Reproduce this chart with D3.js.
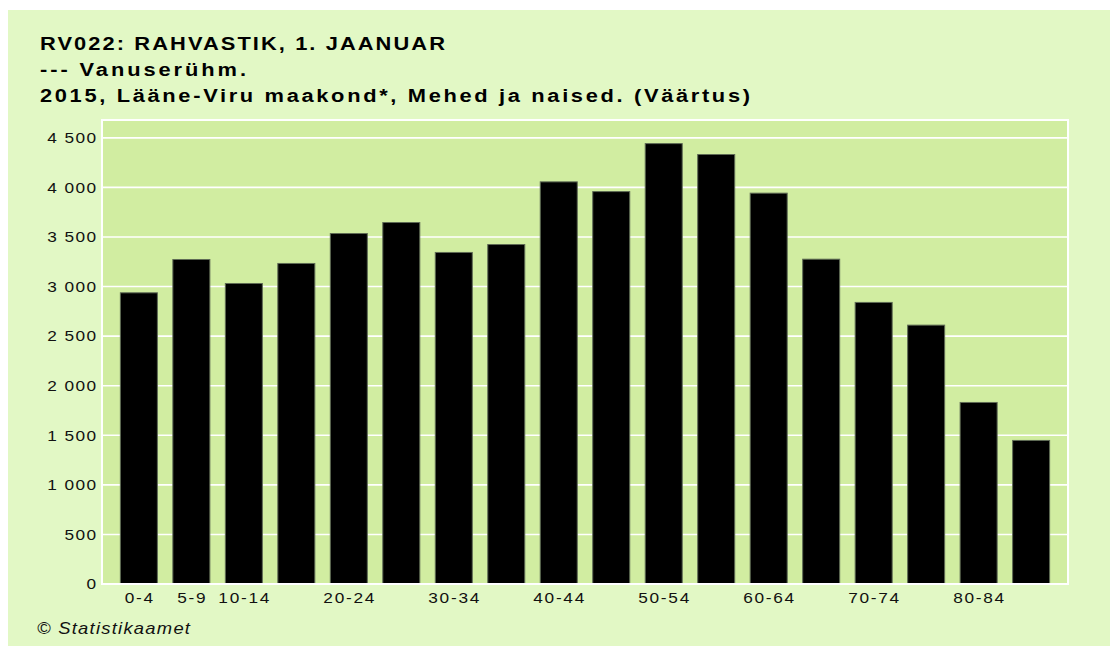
<!DOCTYPE html>
<html>
<head>
<meta charset="utf-8">
<script src="https://cdn.jsdelivr.net/npm/d3@7"></script>
<style>
  body { margin: 0; background: #ffffff; }
  svg { display: block; font-family: "Liberation Sans", Arial, sans-serif; }
</style>
</head>
<body>
<svg id="chart"></svg>
<script>
// Chart data
const ageGroups = ["0-4", "5-9", "10-14", "15-19", "20-24", "25-29", "30-34", "35-39", "40-44",
    "45-49", "50-54", "55-59", "60-64", "65-69", "70-74", "75-79", "80-84", "85+"];
const population = [2937, 3273, 3031, 3233, 3535, 3646, 3344, 3424, 4056,
    3958, 4442, 4332, 3942, 3276, 2840, 2611, 1831, 1448];
// only some of the x labels are shown in the original
const shownLabels = ["0-4", "5-9", "10-14", "20-24", "30-34", "40-44", "50-54", "60-64", "70-74", "80-84"];
const yTicks = [0, 500, 1000, 1500, 2000, 2500, 3000, 3500, 4000, 4500];
const titleLines = ["RV022: RAHVASTIK, 1. JAANUAR", "--- Vanuserühm.",
    "2015, Lääne-Viru maakond*, Mehed ja naised. (Väärtus)"];
const footer = "© Statistikaamet";

const W = 1110, H = 646;
const plot = { left: 102, top: 120, right: 1068, bottom: 584 };
// the original text is rendered wider than Liberation Sans, so stretch it a bit
const stretch = 1.15;
const titleWidths = [405, 206, 710];

const svg = d3.select("#chart")
    .attr("width", W)
    .attr("height", H);

// Panel background
svg.append("rect")
    .attr("x", 8).attr("y", 10)
    .attr("width", W - 8).attr("height", H - 10)
    .attr("fill", "#e2f8c5");

// Plot background
svg.append("rect")
    .attr("x", plot.left).attr("y", plot.top)
    .attr("width", plot.right - plot.left).attr("height", plot.bottom - plot.top)
    .attr("fill", "#d1eda1")
    .attr("stroke", "#ffffff")
    .attr("stroke-width", 2);

// Scales
const x = d3.scaleBand()
    .domain(ageGroups)
    .range([plot.left, plot.right])
    .paddingInner(0.295)
    .paddingOuter(0.35);
const y = d3.scaleLinear()
    .domain([0, 4680])
    .range([plot.bottom, plot.top]);

const fmt = d3.formatLocale({ decimal: ",", thousands: " ", grouping: [3], currency: ["", ""] }).format(",d");

// Gridlines
svg.append("g")
    .selectAll("line")
    .data(yTicks.filter(d => d > 0))
    .enter().append("line")
    .attr("x1", plot.left).attr("x2", plot.right)
    .attr("y1", d => y(d)).attr("y2", d => y(d))
    .attr("stroke", "#ffffff")
    .attr("stroke-width", 1.6);

// Bars
svg.append("g")
    .selectAll("rect")
    .data(population)
    .enter().append("rect")
    .attr("x", (d, i) => x(ageGroups[i]))
    .attr("y", d => y(d))
    .attr("width", x.bandwidth())
    .attr("height", d => y(0) - y(d))
    .attr("fill", "#000000")
    .attr("stroke", "#5f6b55")
    .attr("stroke-width", 1);

// Bottom axis line
svg.append("line")
    .attr("x1", plot.left - 1).attr("x2", plot.right + 1)
    .attr("y1", plot.bottom).attr("y2", plot.bottom)
    .attr("stroke", "#ffffff")
    .attr("stroke-width", 2);

// Y axis
const yAxis = svg.append("g")
    .attr("transform", `translate(${plot.left},0)`)
    .call(d3.axisLeft(y).tickValues(yTicks).tickFormat(fmt).tickSize(0).tickPadding(4));
yAxis.select(".domain").remove();
yAxis.selectAll("text")
    .attr("transform", `scale(${stretch},1)`)
    .attr("font-size", "15px")
    .attr("letter-spacing", "1.2px")
    .attr("font-family", "Liberation Sans, Arial, sans-serif")
    .attr("fill", "#111111");

// X axis
const xAxis = svg.append("g")
    .attr("transform", `translate(0,${plot.bottom})`)
    .call(d3.axisBottom(x).tickFormat(d => shownLabels.includes(d) ? d : "").tickSize(0).tickPadding(8));
xAxis.select(".domain").remove();
xAxis.selectAll("text")
    .attr("transform", `scale(${stretch},1)`)
    .attr("font-size", "15px")
    .attr("letter-spacing", "1.5px")
    .attr("dx", "0.75px")
    .attr("font-family", "Liberation Sans, Arial, sans-serif")
    .attr("fill", "#111111");

// Title
svg.append("g")
    .selectAll("text")
    .data(titleLines)
    .enter().append("text")
    .attr("transform", (d, i) => `translate(40,${50 + i * 26}) scale(${stretch},1)`)
    .attr("font-size", "19px")
    .attr("font-weight", "bold")
    .attr("fill", "#000000")
    .attr("textLength", (d, i) => titleWidths[i] / stretch)
    .attr("lengthAdjust", "spacing")
    .text(d => d);

// Footer
svg.append("text")
    .attr("transform", `translate(37,634) scale(${stretch},1)`)
    .attr("font-size", "16px")
    .attr("font-style", "italic")
    .attr("fill", "#111111")
    .attr("textLength", 153 / stretch)
    .attr("lengthAdjust", "spacing")
    .text(footer);
</script>
</body>
</html>
